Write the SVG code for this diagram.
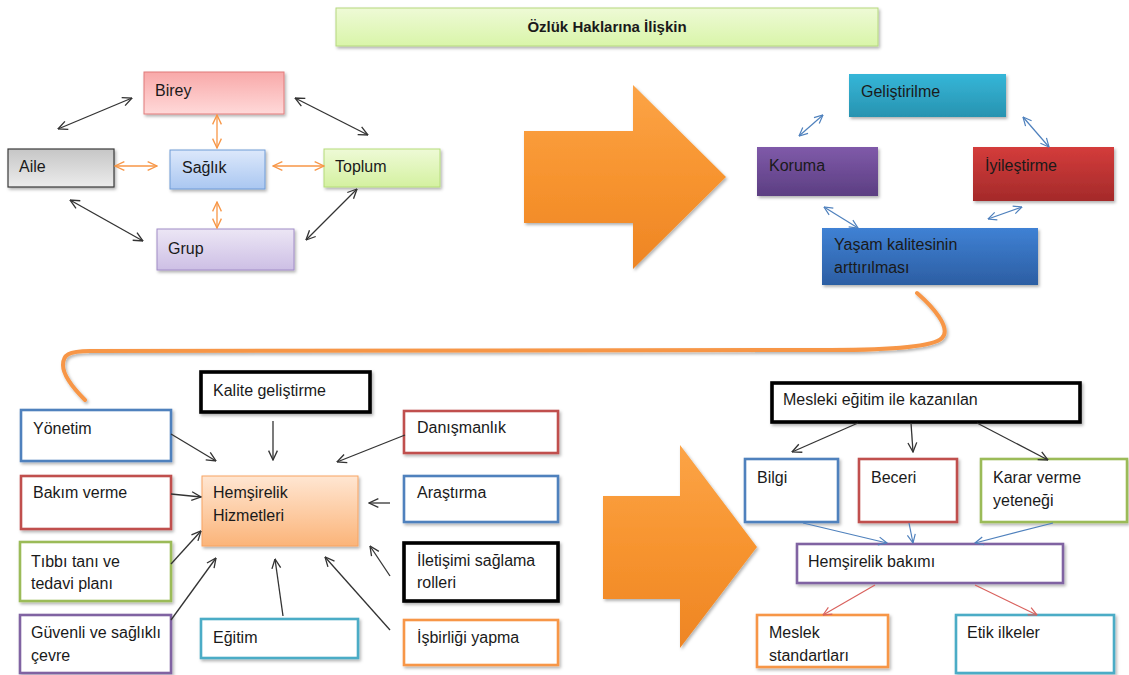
<svg xmlns="http://www.w3.org/2000/svg" width="1129" height="675" viewBox="0 0 1129 675">
<defs>
<style>
text{font-family:"Liberation Sans","Open Sans",Arial,sans-serif;font-size:16px;fill:#1a1a1a}
.title{font-weight:bold;font-size:15px;text-anchor:middle}
.wb{fill:#fff;stroke-width:2.6;filter:url(#sh)}
.bk{stroke:#000;stroke-width:3.6}
.blu{stroke:#4f81bd}.red{stroke:#c0504d}.grn{stroke:#9bbb59}.pur{stroke:#8064a2}.tea{stroke:#4bacc6}.org{stroke:#f79646}
.ca{fill:none;stroke:#333;stroke-width:1.3}
.co{fill:none;stroke:#f79646;stroke-width:1.3}
.cb{fill:none;stroke:#4f81bd;stroke-width:1.2}
.cr{fill:none;stroke:#d9625e;stroke-width:1.2}
.big{fill:url(#gBig);filter:url(#sh)}
</style>
<filter id="sh" x="-10%" y="-10%" width="130%" height="140%"><feDropShadow dx="1.5" dy="2" stdDeviation="1.5" flood-color="#000" flood-opacity="0.3"/></filter>
<linearGradient id="gTitle" x1="0" y1="0" x2="0" y2="1"><stop offset="0" stop-color="#eefad6"/><stop offset="1" stop-color="#d9f5a9"/></linearGradient>
<linearGradient id="gBirey" x1="0" y1="0" x2="0" y2="1"><stop offset="0" stop-color="#f8a9a9"/><stop offset="1" stop-color="#ffd9d9"/></linearGradient>
<linearGradient id="gAile" x1="0" y1="0" x2="0" y2="1"><stop offset="0" stop-color="#c6c6c6"/><stop offset="1" stop-color="#ececec"/></linearGradient>
<linearGradient id="gSag" x1="0" y1="0" x2="0" y2="1"><stop offset="0" stop-color="#dce8fb"/><stop offset="1" stop-color="#aac7f1"/></linearGradient>
<linearGradient id="gTop" x1="0" y1="0" x2="0" y2="1"><stop offset="0" stop-color="#eefad6"/><stop offset="1" stop-color="#d4f1a0"/></linearGradient>
<linearGradient id="gGrup" x1="0" y1="0" x2="0" y2="1"><stop offset="0" stop-color="#ece6f5"/><stop offset="1" stop-color="#cdbfe5"/></linearGradient>
<linearGradient id="gGel" x1="0" y1="0" x2="0" y2="1"><stop offset="0" stop-color="#35b6d8"/><stop offset="1" stop-color="#2893b0"/></linearGradient>
<linearGradient id="gKor" x1="0" y1="0" x2="0" y2="1"><stop offset="0" stop-color="#7f5aa9"/><stop offset="1" stop-color="#5c3e82"/></linearGradient>
<linearGradient id="gIyi" x1="0" y1="0" x2="0" y2="1"><stop offset="0" stop-color="#d43c3b"/><stop offset="1" stop-color="#a42a2a"/></linearGradient>
<linearGradient id="gYas" x1="0" y1="0" x2="0" y2="1"><stop offset="0" stop-color="#3f81d4"/><stop offset="1" stop-color="#2c5ea3"/></linearGradient>
<linearGradient id="gHem" x1="0" y1="0" x2="0" y2="1"><stop offset="0" stop-color="#ffe6d2"/><stop offset="1" stop-color="#fbb479"/></linearGradient>
<linearGradient id="gBig" x1="0" y1="0" x2="0" y2="1"><stop offset="0" stop-color="#fca447"/><stop offset="0.5" stop-color="#f7942f"/><stop offset="1" stop-color="#ee8524"/></linearGradient>
<marker id="mA" viewBox="0 0 10 10" refX="9.5" refY="5" markerWidth="11" markerHeight="11" markerUnits="userSpaceOnUse" orient="auto-start-reverse"><path d="M1,1 L9.5,5 L1,9" fill="none" stroke="#333" stroke-width="1.2"/></marker>
<marker id="mO" viewBox="0 0 10 10" refX="9.5" refY="5" markerWidth="11" markerHeight="11" markerUnits="userSpaceOnUse" orient="auto-start-reverse"><path d="M1,1 L9.5,5 L1,9" fill="none" stroke="#f79646" stroke-width="1.2"/></marker>
<marker id="mB" viewBox="0 0 10 10" refX="9.5" refY="5" markerWidth="10" markerHeight="10" markerUnits="userSpaceOnUse" orient="auto-start-reverse"><path d="M1,1 L9.5,5 L1,9" fill="none" stroke="#4f81bd" stroke-width="1.2"/></marker>
<marker id="mR" viewBox="0 0 10 10" refX="9.5" refY="5" markerWidth="10" markerHeight="10" markerUnits="userSpaceOnUse" orient="auto-start-reverse"><path d="M1,1 L9.5,5 L1,9" fill="none" stroke="#d9625e" stroke-width="1.2"/></marker>
</defs>
<rect width="1129" height="675" fill="#fff"/>

<g id="title"><rect x="336" y="8" width="542" height="38" fill="url(#gTitle)" stroke="#b5d87f" stroke-width="1" filter="url(#sh)"/><text class="title" x="607" y="32">Özlük Haklarına İlişkin</text></g>

<g id="arrow1"><path class="big" d="M524,131 L633,131 L633,85 L726,177 L633,269 L633,223 L524,223 Z"/></g>
<g id="arrow2"><path class="big" d="M603,496 L680,496 L680,445 L757,547 L680,648 L680,599 L603,599 Z"/></g>

<g id="birey"><rect x="144" y="72" width="140" height="42" fill="url(#gBirey)" stroke="#e07b7b" stroke-width="1" filter="url(#sh)"/><text x="155" y="96">Birey</text></g>
<g id="aile"><rect x="8" y="149" width="106" height="38" fill="url(#gAile)" stroke="#3a3a3a" stroke-width="1.2" filter="url(#sh)"/><text x="19" y="172">Aile</text></g>
<g id="saglik"><rect x="170" y="150" width="95" height="39" fill="url(#gSag)" stroke="#6e9bd6" stroke-width="1" filter="url(#sh)"/><text x="182" y="173">Sağlık</text></g>
<g id="toplum"><rect x="324" y="149" width="116" height="38" fill="url(#gTop)" stroke="#b5dc7a" stroke-width="1" filter="url(#sh)"/><text x="335" y="172">Toplum</text></g>
<g id="grup"><rect x="157" y="229" width="137" height="41" fill="url(#gGrup)" stroke="#a08cc6" stroke-width="1" filter="url(#sh)"/><text x="168" y="254">Grup</text></g>

<g id="gelistirilme"><rect x="849" y="74" width="157" height="43" fill="url(#gGel)" filter="url(#sh)"/><text x="861" y="97">Geliştirilme</text></g>
<g id="koruma"><rect x="757" y="147" width="121" height="49" fill="url(#gKor)" filter="url(#sh)"/><text x="769" y="171">Koruma</text></g>
<g id="iyilestirme"><rect x="973" y="147" width="141" height="54" fill="url(#gIyi)" filter="url(#sh)"/><text x="985" y="171">İyileştirme</text></g>
<g id="yasam"><rect x="822" y="228" width="216" height="57" fill="url(#gYas)" filter="url(#sh)"/><text x="834" y="250">Yaşam kalitesinin</text><text x="834" y="273">arttırılması</text></g>

<g id="yonetim"><rect class="wb blu" x="21" y="410" width="150" height="51"/><text x="33" y="434">Yönetim</text></g>
<g id="bakim"><rect class="wb red" x="21" y="476" width="150" height="53"/><text x="33" y="498">Bakım verme</text></g>
<g id="tibbi"><rect class="wb grn" x="20" y="542" width="151" height="59"/><text x="31" y="567">Tıbbı tanı ve</text><text x="31" y="589">tedavi planı</text></g>
<g id="guvenli"><rect class="wb pur" x="20" y="615" width="151" height="58"/><text x="31" y="638">Güvenli ve sağlıklı</text><text x="31" y="661">çevre</text></g>
<g id="kalite"><rect class="wb bk" x="201" y="372" width="169" height="40"/><text x="213" y="396">Kalite geliştirme</text></g>
<g id="hemsirelik"><rect x="202" y="476" width="156" height="70" fill="url(#gHem)" stroke="#f7a463" stroke-width="1" filter="url(#sh)"/><text x="213" y="498">Hemşirelik</text><text x="213" y="521">Hizmetleri</text></g>
<g id="egitim"><rect class="wb tea" x="201" y="619" width="157" height="39"/><text x="213" y="643">Eğitim</text></g>
<g id="danismanlik"><rect class="wb red" x="404" y="411" width="154" height="42"/><text x="417" y="433">Danışmanlık</text></g>
<g id="arastirma"><rect class="wb blu" x="404" y="476" width="154" height="46"/><text x="417" y="498">Araştırma</text></g>
<g id="iletisim"><rect class="wb bk" x="404" y="543" width="154" height="58"/><text x="417" y="566">İletişimi sağlama</text><text x="417" y="588">rolleri</text></g>
<g id="isbirligi"><rect class="wb org" x="404" y="620" width="154" height="45"/><text x="417" y="643">İşbirliği yapma</text></g>

<g id="mesleki"><rect class="wb bk" x="772" y="383" width="308" height="39"/><text x="783" y="405">Mesleki eğitim ile kazanılan</text></g>
<g id="bilgi"><rect class="wb blu" x="745" y="459" width="93" height="63"/><text x="757" y="483">Bilgi</text></g>
<g id="beceri"><rect class="wb red" x="859" y="459" width="98" height="63"/><text x="871" y="483">Beceri</text></g>
<g id="karar"><rect class="wb grn" x="981" y="459" width="146" height="63"/><text x="993" y="483">Karar verme</text><text x="993" y="506">yeteneği</text></g>
<g id="bakimi"><rect class="wb pur" x="797" y="544" width="266" height="39"/><text x="808" y="567">Hemşirelik bakımı</text></g>
<g id="meslek"><rect class="wb org" x="757" y="615" width="131" height="52"/><text x="769" y="638">Meslek</text><text x="769" y="661">standartları</text></g>
<g id="etik"><rect class="wb tea" x="956" y="615" width="158" height="58"/><text x="967" y="638">Etik ilkeler</text></g>

<g id="connectors">
<line class="ca" x1="58" y1="129" x2="132" y2="98" marker-start="url(#mA)" marker-end="url(#mA)"/>
<line class="ca" x1="295" y1="98" x2="368" y2="135" marker-start="url(#mA)" marker-end="url(#mA)"/>
<line class="ca" x1="70" y1="200" x2="143" y2="241" marker-start="url(#mA)" marker-end="url(#mA)"/>
<line class="ca" x1="357" y1="189" x2="306" y2="240" marker-start="url(#mA)" marker-end="url(#mA)"/>
<line class="co" x1="217" y1="115" x2="217" y2="148" marker-start="url(#mO)" marker-end="url(#mO)"/>
<line class="co" x1="217" y1="202" x2="217" y2="228" marker-start="url(#mO)" marker-end="url(#mO)"/>
<line class="co" x1="115" y1="166" x2="157" y2="166" marker-start="url(#mO)" marker-end="url(#mO)"/>
<line class="co" x1="273" y1="166" x2="324" y2="166" marker-start="url(#mO)" marker-end="url(#mO)"/>

<line class="cb" x1="799" y1="136" x2="823" y2="115" marker-start="url(#mB)" marker-end="url(#mB)"/>
<line class="cb" x1="1023" y1="117" x2="1049" y2="147" marker-start="url(#mB)" marker-end="url(#mB)"/>
<line class="cb" x1="824" y1="207" x2="858" y2="228" marker-start="url(#mB)" marker-end="url(#mB)"/>
<line class="cb" x1="1022" y1="207" x2="988" y2="219" marker-start="url(#mB)" marker-end="url(#mB)"/>

<path d="M917,293 C932,306 952,328 942,338 C932,348 880,350 830,350 L90,351 C68,351 63,355 63,365 C63,376 75,390 85,400" fill="none" stroke="#f79646" stroke-width="4" stroke-linecap="round" filter="url(#sh)"/>

<line class="ca" x1="171" y1="434" x2="216" y2="461" marker-end="url(#mA)"/>
<line class="ca" x1="273" y1="421" x2="273" y2="460" marker-end="url(#mA)"/>
<line class="ca" x1="405" y1="435" x2="337" y2="462" marker-end="url(#mA)"/>
<line class="ca" x1="171" y1="494" x2="201" y2="497" marker-end="url(#mA)"/>
<line class="ca" x1="390" y1="503" x2="369" y2="503" marker-end="url(#mA)"/>
<line class="ca" x1="171" y1="564" x2="201" y2="531" marker-end="url(#mA)"/>
<line class="ca" x1="171" y1="620" x2="216" y2="558" marker-end="url(#mA)"/>
<line class="ca" x1="283" y1="616" x2="275" y2="559" marker-end="url(#mA)"/>
<line class="ca" x1="390" y1="630" x2="325" y2="557" marker-end="url(#mA)"/>
<line class="ca" x1="390" y1="576" x2="370" y2="546" marker-end="url(#mA)"/>

<line class="ca" x1="858" y1="423" x2="792" y2="452" marker-end="url(#mA)"/>
<line class="ca" x1="911" y1="423" x2="913" y2="452" marker-end="url(#mA)"/>
<line class="ca" x1="977" y1="423" x2="1048" y2="460" marker-end="url(#mA)"/>
<line class="cb" x1="803" y1="523" x2="887" y2="543" marker-end="url(#mB)"/>
<line class="cb" x1="909" y1="523" x2="913" y2="543" marker-end="url(#mB)"/>
<line class="cb" x1="1053" y1="523" x2="975" y2="543" marker-end="url(#mB)"/>
<line class="cr" x1="875" y1="585" x2="823" y2="615" marker-end="url(#mR)"/>
<line class="cr" x1="975" y1="585" x2="1037" y2="615" marker-end="url(#mR)"/>
</g>
</svg>
